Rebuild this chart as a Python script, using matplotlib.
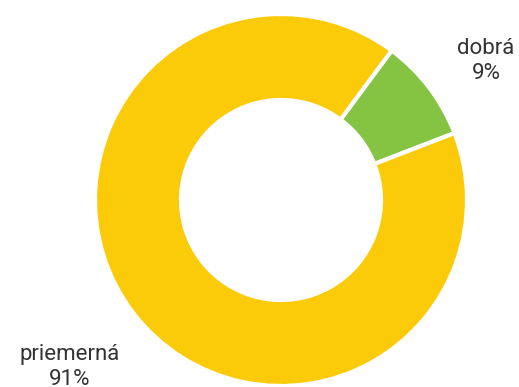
import matplotlib
matplotlib.use("Agg")
import matplotlib.pyplot as plt

# data
kategorie = ["dobrá", "priemerná"]
podiel = [9, 91]
farby = ["#85C443", "#FBCB0A"]

plt.rcParams['font.family'] = ['Roboto', 'DejaVu Sans']

fig = plt.figure(figsize=(5.19, 3.87), dpi=100)
ax = fig.add_axes([0, 0, 1, 1])

# green slice sits between ~53.5 and ~20.5 degrees, drawn clockwise
ax.pie(podiel, colors=farby, startangle=53.5, counterclock=False,
       center=(281, 187), radius=186,
       wedgeprops=dict(width=86, edgecolor='white', linewidth=3))
ax.set_xlim(0, 519)
ax.set_ylim(0, 387)
ax.set_aspect('equal')
ax.axis('off')

popisy = [f"{k}\n{p}%" for k, p in zip(kategorie, podiel)]
pozicie = [(486, 326), (70, 20)]
for txt, (x, y) in zip(popisy, pozicie):
    ax.text(x, y, txt, ha='center', va='center', fontsize=16,
            color='#333333', linespacing=1.2)

fig.savefig("out.png", dpi=100)
